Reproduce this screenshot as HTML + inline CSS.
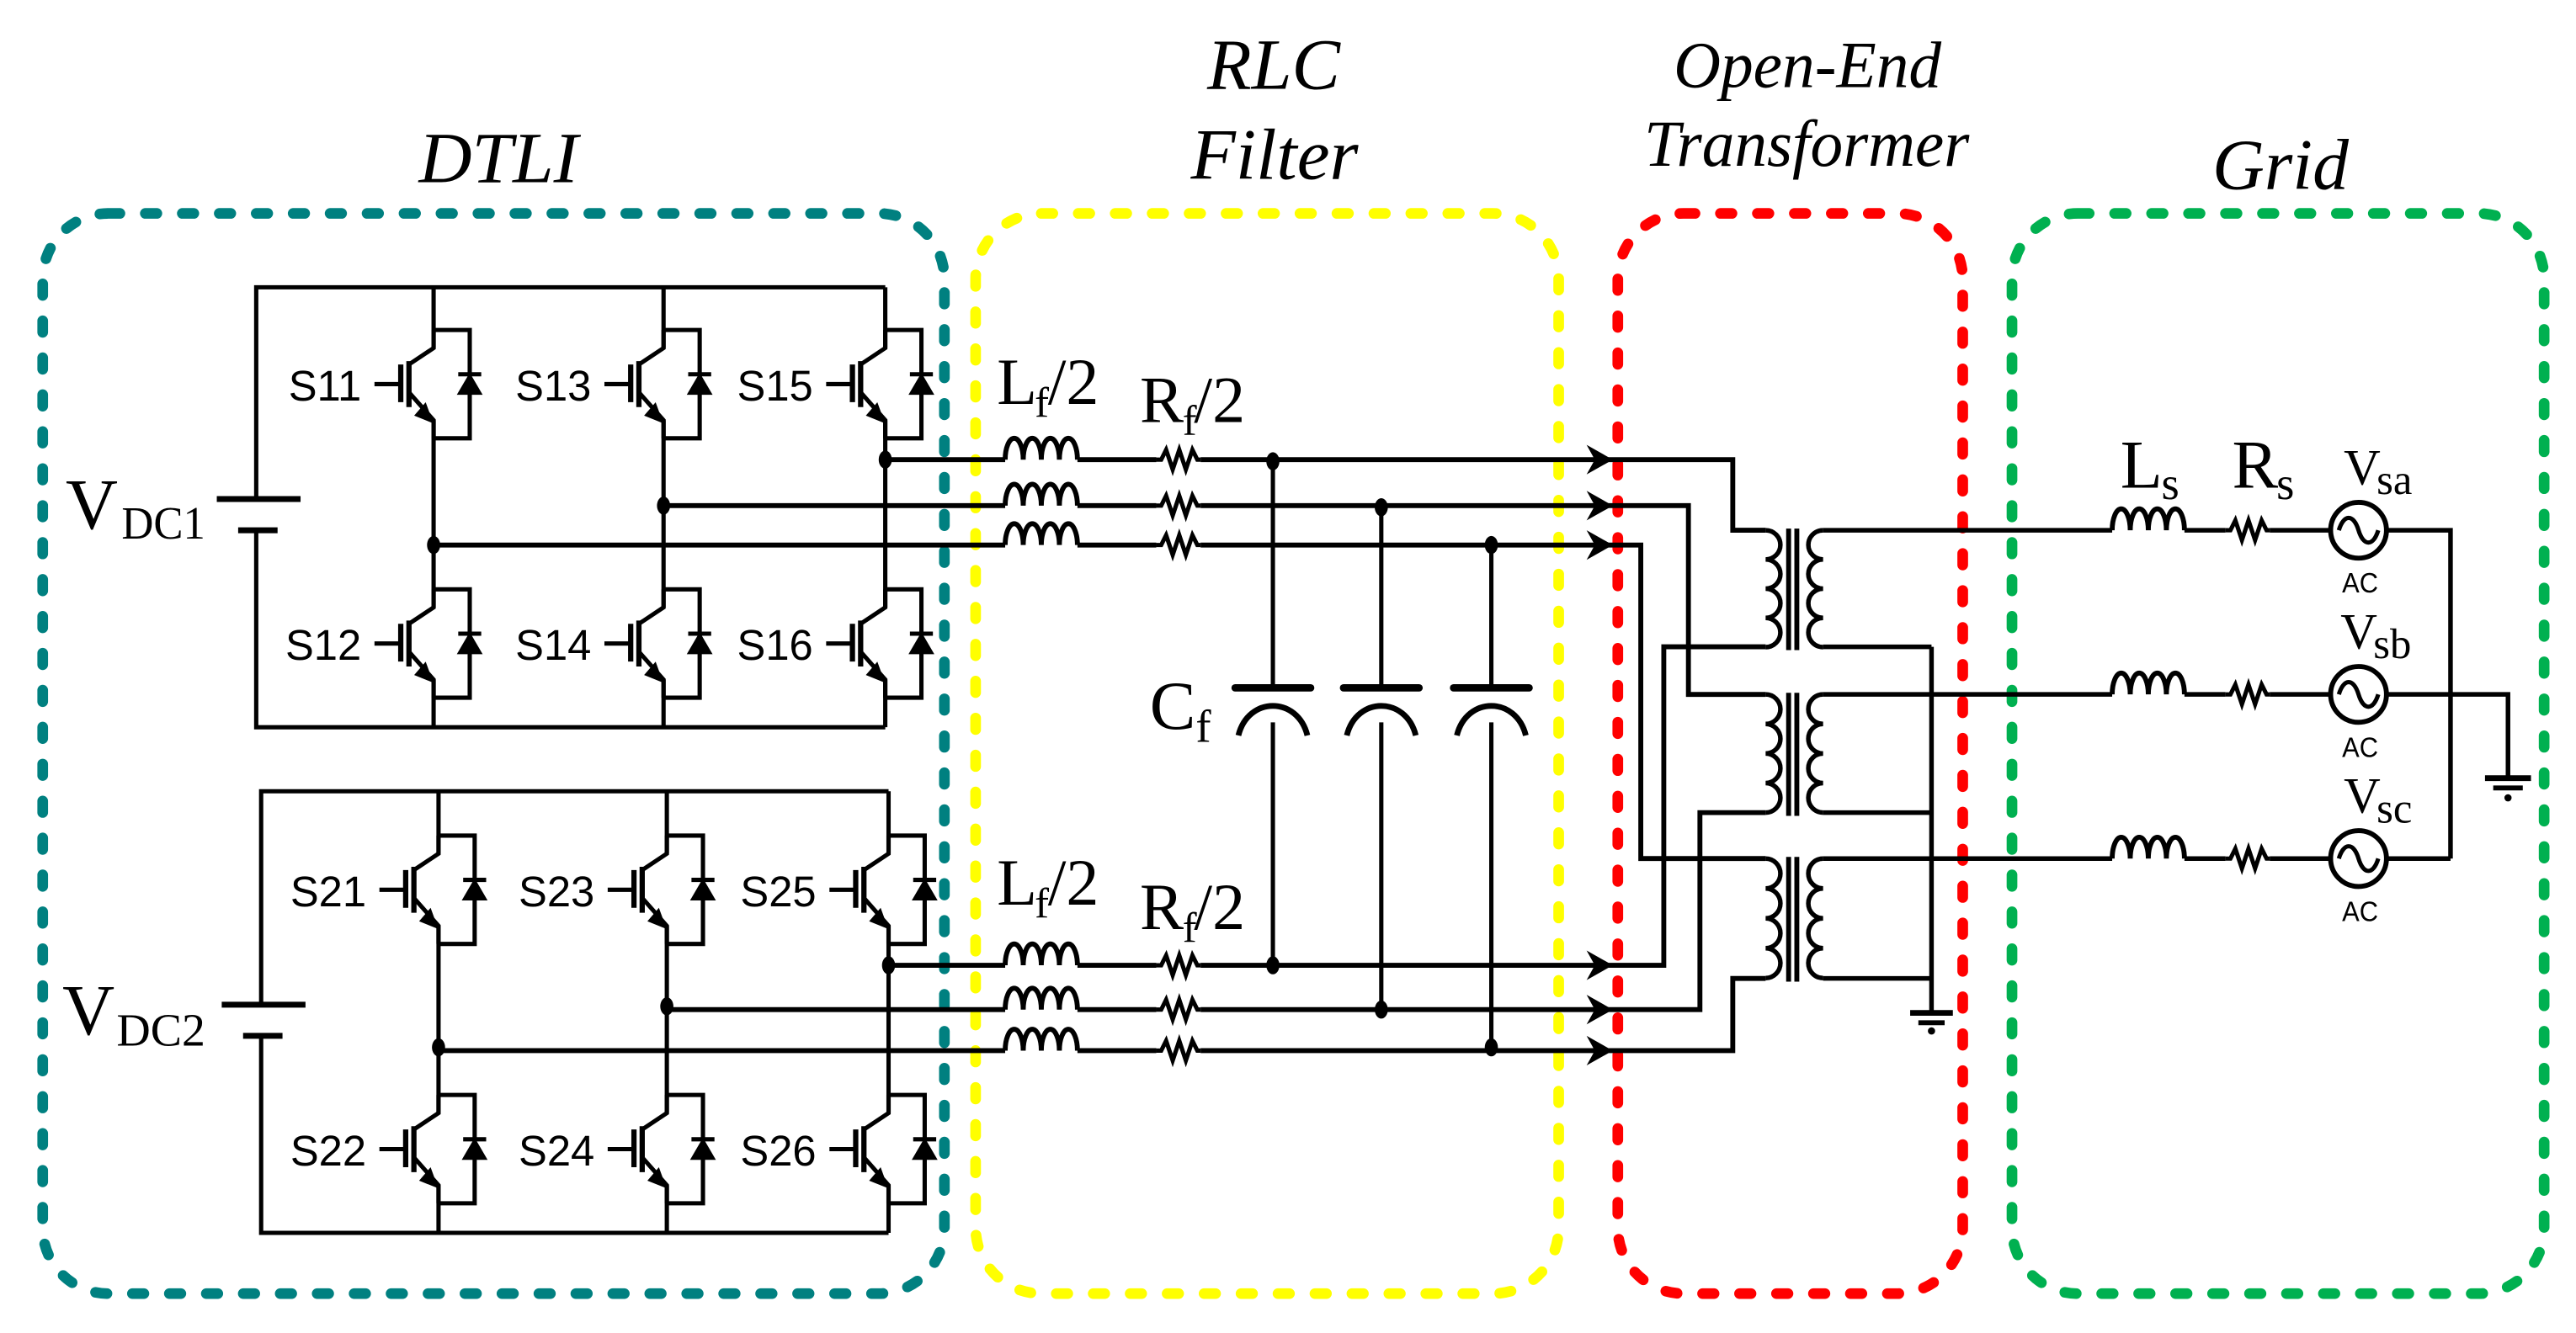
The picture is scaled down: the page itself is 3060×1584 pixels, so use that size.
<!DOCTYPE html>
<html><head><meta charset="utf-8"><style>
html,body{margin:0;padding:0;background:#fff;}
svg{display:block;}
text{font-family:"Liberation Serif",serif;fill:#000;}
.s{font-family:"Liberation Sans",sans-serif;}
</style></head><body>
<svg width="3060" height="1584" viewBox="0 0 1568.4 812" preserveAspectRatio="none" xmlns="http://www.w3.org/2000/svg">
<defs>
<g id="sw" fill="none" stroke="#000" stroke-width="2.6">
 <path d="M0,-33 H22 V33 H0"/>
 <path d="M0,-33 V-22 L-15,-12"/>
 <path d="M-15,5 L0,22 V33"/>
 <path d="M-15,-14 V14" stroke-width="3.2"/>
 <path d="M-20,-12 V11" stroke-width="3.2"/>
 <path d="M-36,0 H-20"/>
 <path d="M15,-6 H29"/>
 <polygon points="15,6 29,6 22,-6" fill="#000" stroke-width="1"/>
 <polygon points="-1,23 -11,19 -5,12" fill="#000" stroke-width="1"/>
</g>
<path id="ind" d="M0,0 a5.5,13 0 0 1 11,0 a5.5,13 0 0 1 11,0 a5.5,13 0 0 1 11,0 a5.5,13 0 0 1 11,0" fill="none" stroke="#000" stroke-width="3"/>
<polyline id="res" points="0,0 3,0 6,-6 10,6 14,-6 18,6 22,-6 25,0 27,0" fill="none" stroke="#000" stroke-width="2.6"/>
<g id="src" fill="none" stroke="#000" stroke-width="3">
 <circle cx="0" cy="0" r="17"/>
 <path d="M-12,0 c3,-10 9,-10 12,0 s9,10 12,0" stroke-width="2.6"/>
</g>
<polygon id="arr" points="0,0 -16,-9 -11,0 -16,9" fill="#000"/>
<g id="cap" fill="none" stroke="#000">
 <path d="M-23,0 H23" stroke-width="4.5" stroke-linecap="round"/>
 <path d="M-21,29 C-15,5 15,5 21,29" stroke-width="3.5"/>
</g>
</defs>

<!-- dashed boxes -->
<g fill="none" stroke-width="6.5" stroke-linecap="round" stroke-dasharray="7 15.5">
 <rect x="26" y="130" width="549" height="658" rx="40" stroke="#008080"/>
 <rect x="594" y="130" width="355" height="658" rx="40" stroke="#ffff00"/>
 <rect x="985" y="130" width="210" height="658" rx="40" stroke="#ff0000"/>
 <rect x="1225" y="130" width="324" height="658" rx="40" stroke="#00b050"/>
</g>

<!-- titles -->
<g font-style="italic">
 <text x="255" y="111" font-size="44" textLength="97" lengthAdjust="spacingAndGlyphs">DTLI</text>
 <text x="735" y="54" font-size="44" textLength="81" lengthAdjust="spacingAndGlyphs">RLC</text>
 <text x="725" y="109" font-size="44" textLength="102" lengthAdjust="spacingAndGlyphs">Filter</text>
 <text x="1019" y="53" font-size="40" textLength="163" lengthAdjust="spacingAndGlyphs">Open-End</text>
 <text x="1001" y="101" font-size="40" textLength="198" lengthAdjust="spacingAndGlyphs">Transformer</text>
 <text x="1347" y="115" font-size="44" textLength="83" lengthAdjust="spacingAndGlyphs">Grid</text>
</g>

<g fill="none" stroke="#000" stroke-width="2.6">
<!-- upper inverter -->
 <path d="M539,175 H156 V304 M156,323 V443 H539"/>
 <path d="M132,304 H183 M145,323 H169" stroke-width="3.6"/>
 <path d="M264,175 V212 M264,256 V370 M264,414 V443"/>
 <path d="M404,175 V212 M404,256 V370 M404,414 V443"/>
 <path d="M539,175 V212 M539,256 V370 M539,414 V443"/>
<!-- lower inverter -->
 <path d="M541,482 H159 V612 M159,631 V751 H541"/>
 <path d="M135,612 H186 M148,631 H172" stroke-width="3.6"/>
 <path d="M267,482 V520 M267,564 V678 M267,722 V751"/>
 <path d="M406,482 V520 M406,564 V678 M406,722 V751"/>
 <path d="M541,482 V520 M541,564 V678 M541,722 V751"/>
</g>
<use href="#sw" x="264" y="234"/><use href="#sw" x="404" y="234"/><use href="#sw" x="539" y="234"/>
<use href="#sw" x="264" y="392"/><use href="#sw" x="404" y="392"/><use href="#sw" x="539" y="392"/>
<use href="#sw" x="267" y="542"/><use href="#sw" x="406" y="542"/><use href="#sw" x="541" y="542"/>
<use href="#sw" x="267" y="700"/><use href="#sw" x="406" y="700"/><use href="#sw" x="541" y="700"/>

<g class="s" font-size="26" text-anchor="end">
 <text class="s" x="220" y="244">S11</text><text class="s" x="360" y="244">S13</text><text class="s" x="495" y="244">S15</text>
 <text class="s" x="220" y="402">S12</text><text class="s" x="360" y="402">S14</text><text class="s" x="495" y="402">S16</text>
 <text class="s" x="223" y="552">S21</text><text class="s" x="362" y="552">S23</text><text class="s" x="497" y="552">S25</text>
 <text class="s" x="223" y="710">S22</text><text class="s" x="362" y="710">S24</text><text class="s" x="497" y="710">S26</text>
</g>

<text x="40" y="322" font-size="44">V</text>
<text x="74" y="328" font-size="28" textLength="51" lengthAdjust="spacingAndGlyphs">DC1</text>
<text x="38" y="630" font-size="44">V</text>
<text x="71" y="637" font-size="28" textLength="54" lengthAdjust="spacingAndGlyphs">DC2</text>

<!-- phase lines -->
<g fill="none" stroke="#000" stroke-width="3">
 <path d="M539,280 H612 M656,280 H704 M731,280 H1055 V323 H1075"/>
 <path d="M404,308 H612 M656,308 H704 M731,308 H1028 V423 H1075"/>
 <path d="M264,332 H612 M656,332 H704 M731,332 H999 V523 H1075"/>
 <path d="M541,588 H612 M656,588 H704 M731,588 H1013 V394 H1075"/>
 <path d="M406,615 H612 M656,615 H704 M731,615 H1035 V495 H1075"/>
 <path d="M267,640 H612 M656,640 H704 M731,640 H1055 V596 H1075"/>
 <!-- cap verticals -->
 <path d="M775,280 V419 M775,440 V588" stroke-width="2.6"/>
 <path d="M841,308 V419 M841,440 V615" stroke-width="2.6"/>
 <path d="M908,332 V419 M908,440 V640" stroke-width="2.6"/>
</g>
<use href="#ind" x="612" y="280"/><use href="#ind" x="612" y="308"/><use href="#ind" x="612" y="332"/>
<use href="#ind" x="612" y="588"/><use href="#ind" x="612" y="615"/><use href="#ind" x="612" y="640"/>
<use href="#res" x="704" y="280"/><use href="#res" x="704" y="308"/><use href="#res" x="704" y="332"/>
<use href="#res" x="704" y="588"/><use href="#res" x="704" y="615"/><use href="#res" x="704" y="640"/>
<use href="#cap" x="775" y="419"/><use href="#cap" x="841" y="419"/><use href="#cap" x="908" y="419"/>
<use href="#arr" x="982" y="280"/><use href="#arr" x="982" y="308"/><use href="#arr" x="982" y="332"/>
<use href="#arr" x="982" y="588"/><use href="#arr" x="982" y="615"/><use href="#arr" x="982" y="640"/>

<g fill="#000">
 <ellipse cx="539" cy="280" rx="4" ry="5.5"/><ellipse cx="404" cy="308" rx="4" ry="5.5"/><ellipse cx="264" cy="332" rx="4" ry="5.5"/>
 <ellipse cx="541" cy="588" rx="4" ry="5.5"/><ellipse cx="406" cy="613" rx="4" ry="5.5"/><ellipse cx="267" cy="638" rx="4" ry="5.5"/>
 <ellipse cx="775" cy="281" rx="4" ry="5.5"/><ellipse cx="841" cy="309" rx="4" ry="5.5"/><ellipse cx="908" cy="332" rx="4" ry="5.5"/>
 <ellipse cx="775" cy="588" rx="4" ry="5.5"/><ellipse cx="841" cy="615" rx="4" ry="5.5"/><ellipse cx="908" cy="638" rx="4" ry="5.5"/>
</g>

<!-- filter labels -->
<text x="607" y="246" font-size="40">L</text><text x="630" y="254" font-size="26">f</text><text x="638" y="246" font-size="40">/2</text>
<text x="694" y="257" font-size="40">R</text><text x="720" y="265" font-size="26">f</text><text x="727" y="257" font-size="40">/2</text>
<text x="607" y="551" font-size="40">L</text><text x="630" y="559" font-size="26">f</text><text x="638" y="551" font-size="40">/2</text>
<text x="694" y="566" font-size="40">R</text><text x="720" y="574" font-size="26">f</text><text x="727" y="566" font-size="40">/2</text>
<text x="700" y="444" font-size="42">C</text><text x="728" y="452" font-size="28">f</text>

<!-- transformers -->
<g fill="none" stroke="#000" stroke-width="2.8">
 <path d="M1075,323 a9,8.9 0 0 1 0,17.8 a9,8.9 0 0 1 0,17.8 a9,8.9 0 0 1 0,17.8 a9,8.9 0 0 1 0,17.8"/>
 <path d="M1075,423 a9,9 0 0 1 0,18 a9,9 0 0 1 0,18 a9,9 0 0 1 0,18 a9,9 0 0 1 0,18"/>
 <path d="M1075,523 a9,9.1 0 0 1 0,18.2 a9,9.1 0 0 1 0,18.2 a9,9.1 0 0 1 0,18.2 a9,9.1 0 0 1 0,18.2"/>
 <path d="M1110,323 a9,8.9 0 0 0 0,17.8 a9,8.9 0 0 0 0,17.8 a9,8.9 0 0 0 0,17.8 a9,8.9 0 0 0 0,17.8"/>
 <path d="M1110,423 a9,9 0 0 0 0,18 a9,9 0 0 0 0,18 a9,9 0 0 0 0,18 a9,9 0 0 0 0,18"/>
 <path d="M1110,523 a9,9.1 0 0 0 0,18.2 a9,9.1 0 0 0 0,18.2 a9,9.1 0 0 0 0,18.2 a9,9.1 0 0 0 0,18.2"/>
 <path d="M1089,322 V396 M1094,322 V396 M1089,422 V497 M1094,422 V497 M1089,522 V598 M1094,522 V598" stroke-width="3"/>
 <!-- secondary bottoms to ground -->
 <path d="M1110,394 H1176 M1110,495 H1176 M1110,596 H1176 M1176,394 V617"/>
 <path d="M1163,617 H1189" stroke-width="3.5"/>
 <path d="M1168,623 H1184" stroke-width="3"/>
 <!-- grid lines -->
 <path d="M1110,323 H1286 M1330,323 H1355 M1382,323 H1419 M1453,323 H1492 V523"/>
 <path d="M1110,423 H1286 M1330,423 H1355 M1382,423 H1419 M1453,423 H1527 V474"/>
 <path d="M1110,523 H1286 M1330,523 H1355 M1382,523 H1419 M1453,523 H1492"/>
 <path d="M1513,474 H1541" stroke-width="3.5"/>
 <path d="M1518,480 H1536" stroke-width="3"/>
</g>
<circle cx="1176" cy="628" r="2.2" fill="#000"/>
<circle cx="1527" cy="486" r="2.2" fill="#000"/>
<use href="#ind" x="1286" y="323"/><use href="#ind" x="1286" y="423"/><use href="#ind" x="1286" y="523"/>
<use href="#res" x="1355" y="323"/><use href="#res" x="1355" y="423"/><use href="#res" x="1355" y="523"/>
<use href="#src" x="1436" y="323"/><use href="#src" x="1436" y="423"/><use href="#src" x="1436" y="523"/>

<g class="s" font-size="17">
 <text class="s" x="1426" y="361" textLength="22" lengthAdjust="spacingAndGlyphs">AC</text>
 <text class="s" x="1426" y="461" textLength="22" lengthAdjust="spacingAndGlyphs">AC</text>
 <text class="s" x="1426" y="561" textLength="22" lengthAdjust="spacingAndGlyphs">AC</text>
</g>
<text x="1291" y="297" font-size="42">L</text><text x="1316" y="304" font-size="28">s</text>
<text x="1359" y="297" font-size="42">R</text><text x="1386" y="304" font-size="28">s</text>
<text x="1427" y="295" font-size="31">V</text><text x="1447" y="301" font-size="26">sa</text>
<text x="1425" y="395" font-size="31">V</text><text x="1445" y="401" font-size="26">sb</text>
<text x="1427" y="495" font-size="31">V</text><text x="1447" y="501" font-size="26">sc</text>
</svg>
</body></html>
